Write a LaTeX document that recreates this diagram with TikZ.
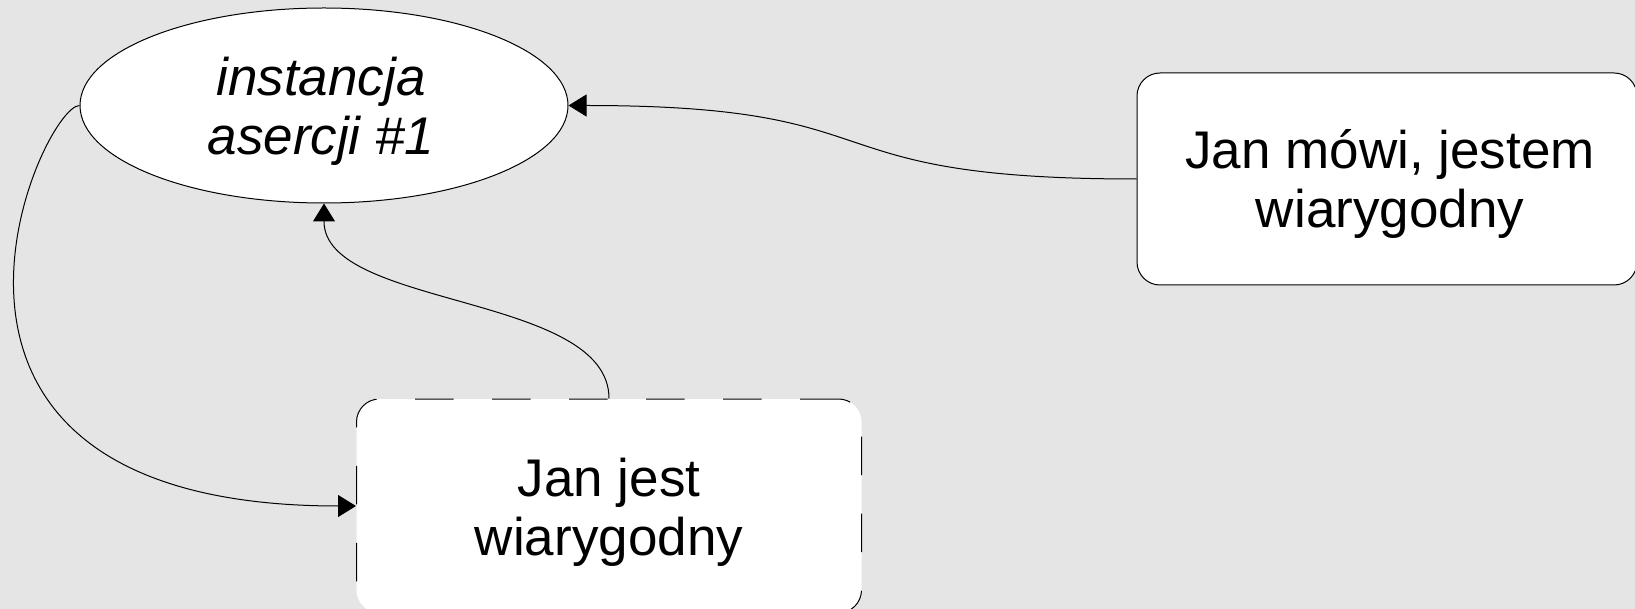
\documentclass[tikz,border=0pt]{standalone}
\usepackage{fontspec}
\setmainfont{Liberation Sans}
\usetikzlibrary{shapes.geometric,arrows.meta}
\definecolor{bg}{RGB}{229,229,229}
\begin{document}
\begin{tikzpicture}[x=1pt,y=-1pt,
  shapenode/.style={fill=white, draw=black, line width=1pt, inner sep=0pt},
  ellnode/.style={shapenode, ellipse, minimum width=488pt, minimum height=195pt},
  boxnode/.style={shapenode, rectangle, rounded corners=23pt, minimum width=500pt, minimum height=212pt},
  dashbox/.style={boxnode, minimum width=505pt, minimum height=214pt, dash pattern=on 38.5pt off 38.5pt},
  label/.style={font=\fontsize{53}{59}\selectfont, align=center, inner sep=0pt},
  conn/.style={line width=1pt, -{Triangle[length=18pt,width=22pt]}}
]
\fill[bg] (0,0) rectangle (1635,609);
\useasboundingbox (0,0) rectangle (1635,609);
\node[ellnode] (ell) at (324,105.5) {};
\node[label, font=\fontsize{53}{59}\selectfont\itshape] (ellt) at ([xshift=-3pt,yshift=-6pt]ell.center) {instancja\\asercji \#1};
\node[boxnode] (b1) at (1387,179) {};
\node[label] (b1t) at ([xshift=3pt,yshift=-5pt]b1.center) {Jan mówi, jestem\\wiarygodny};
\node[dashbox] (b2) at (609,506) {};
\node[label] (b2t) at ([yshift=-6pt]b2.center) {Jan jest\\wiarygodny};
\draw[conn] (b1.west) .. controls +(-340,0) and +(340,0) .. (ell.east);
\draw[conn] (b2.north) .. controls +(0,-105) and +(0,105) .. (ell.south);
\draw[conn] (ell.west) .. controls +(-38,0) and +(-498,0) .. (b2.west);
\end{tikzpicture}
\end{document}
